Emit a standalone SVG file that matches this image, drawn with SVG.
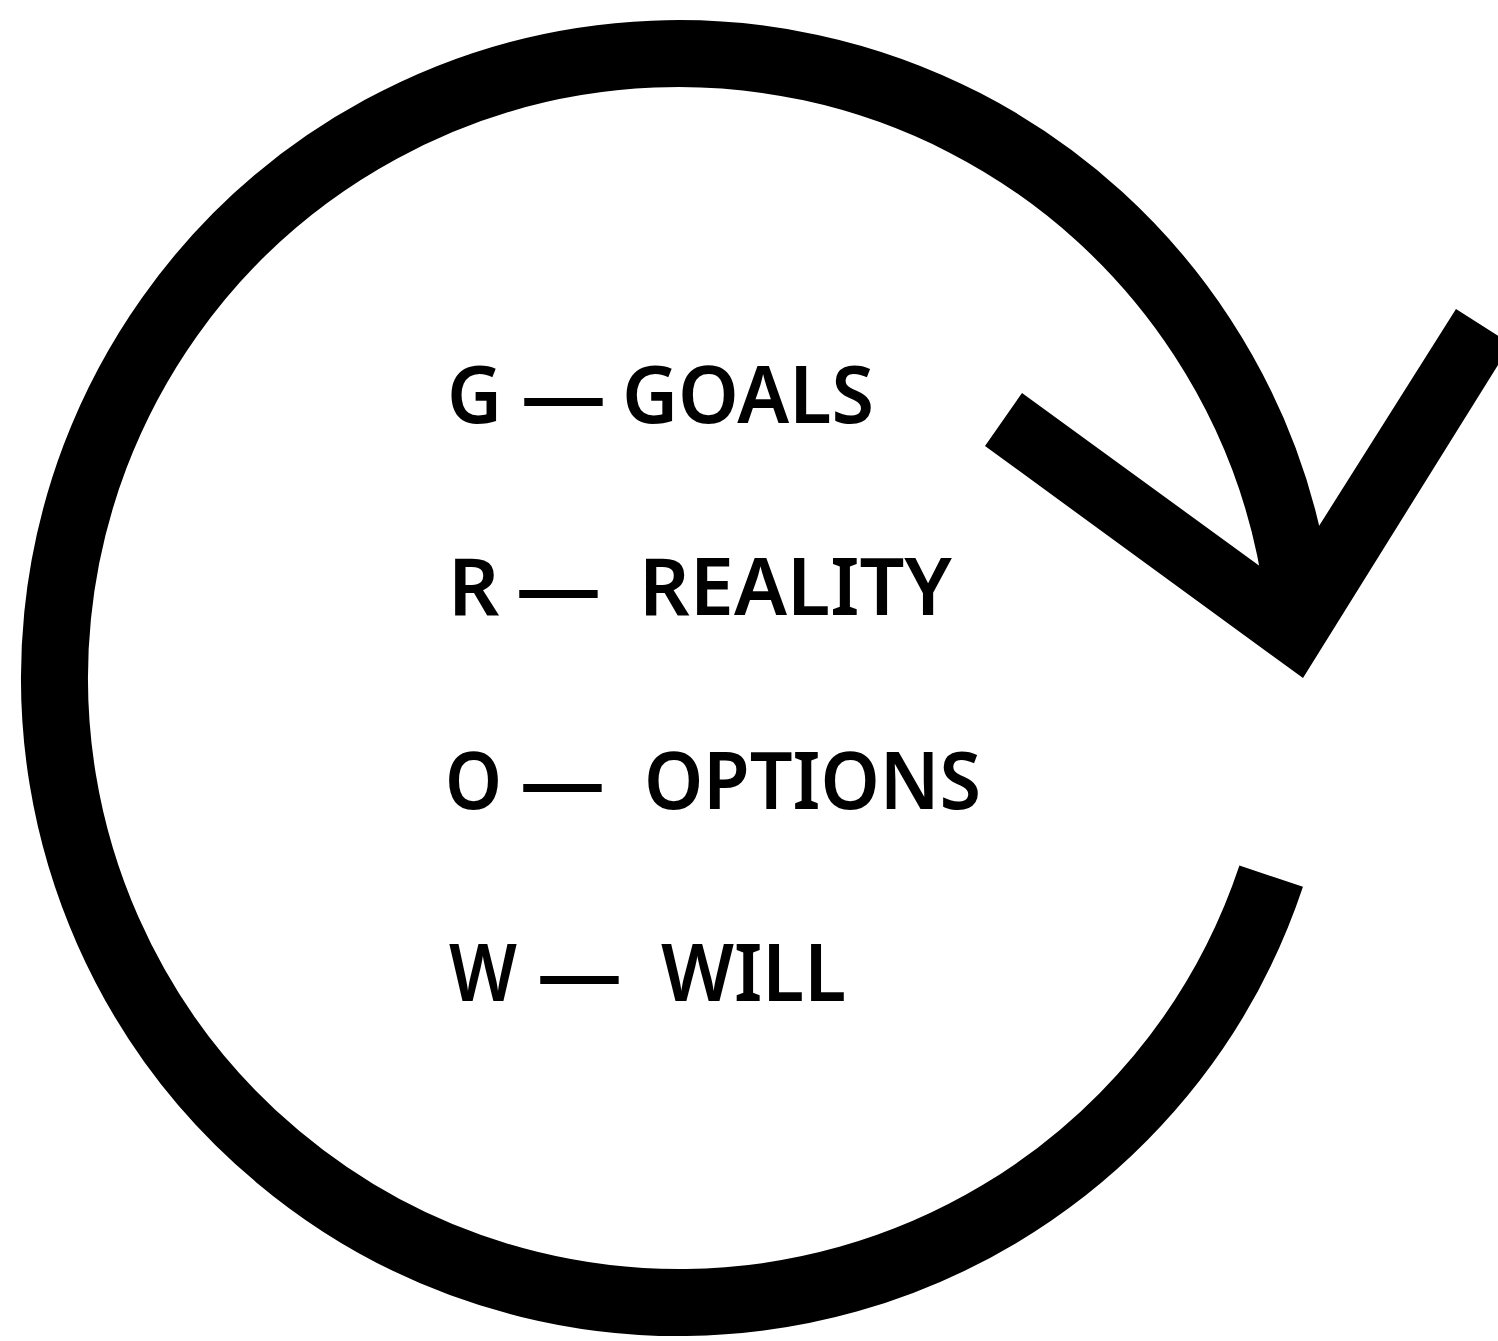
<svg xmlns="http://www.w3.org/2000/svg" width="1498" height="1341" viewBox="0 0 1498 1341">
<style>
.t{font-family:"Noto Sans","Open Sans","DejaVu Sans",sans-serif;font-weight:600;font-size:80px;fill:#000}
</style>
<rect width="1498" height="1341" fill="#fff"/>
<g id="connectors">
<path id="cycle-arc" d="M1271.2,876.2 A624.5,624.5 0 1 1 1298.8,601.9" fill="none" stroke="#000" stroke-width="67"/>
<polygon id="arrowhead" points="1022,393 1283,583 1456,309 1511,344 1303,678 985,446" fill="#000"/>
</g>
<g id="row-g">
<text class="t" x="447" y="423" textLength="55" lengthAdjust="spacingAndGlyphs">G</text>
<text class="t" x="521" y="423" textLength="85" lengthAdjust="spacingAndGlyphs">—</text>
<text class="t" x="622" y="423" textLength="252" lengthAdjust="spacingAndGlyphs">GOALS</text>
</g>
<g id="row-r">
<text class="t" x="448" y="615">R</text>
<text class="t" x="516" y="615" textLength="85" lengthAdjust="spacingAndGlyphs">—</text>
<text class="t" x="639" y="615" textLength="313" lengthAdjust="spacingAndGlyphs">REALITY</text>
</g>
<g id="row-o">
<text class="t" x="445" y="809" textLength="57" lengthAdjust="spacingAndGlyphs">O</text>
<text class="t" x="520" y="809" textLength="85" lengthAdjust="spacingAndGlyphs">—</text>
<text class="t" x="644" y="809" textLength="337" lengthAdjust="spacingAndGlyphs">OPTIONS</text>
</g>
<g id="row-w">
<text class="t" x="449" y="1001" textLength="68" lengthAdjust="spacingAndGlyphs">W</text>
<text class="t" x="537" y="1001" textLength="85" lengthAdjust="spacingAndGlyphs">—</text>
<text class="t" x="661" y="1001" textLength="185" lengthAdjust="spacingAndGlyphs">WILL</text>
</g>
</svg>
